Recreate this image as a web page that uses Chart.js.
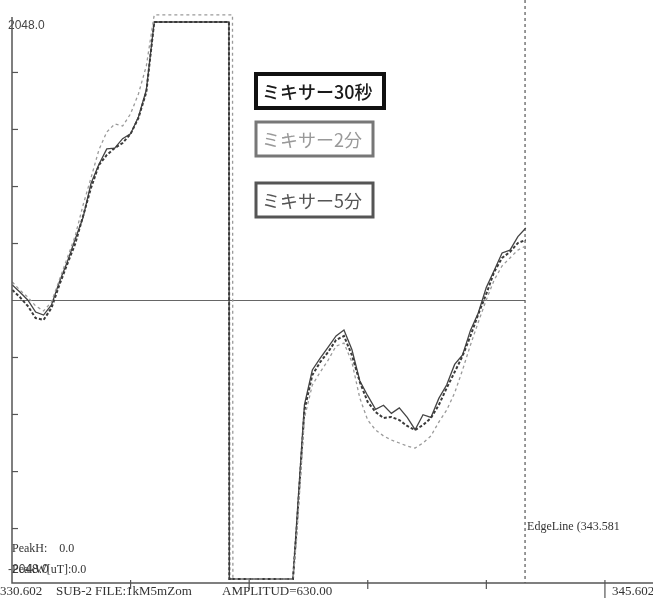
<!DOCTYPE html>
<html>
<head>
<meta charset="utf-8">
<script src="https://cdn.jsdelivr.net/npm/chart.js@4.4.1/dist/chart.umd.min.js"></script>
<style>
  html, body { margin: 0; padding: 0; background: #fff; }
  #wrap { width: 653px; height: 600px; }
</style>
</head>
<body>
<div id="wrap"><canvas id="waveChart" width="653" height="600"></canvas></div>
<script>
// time axis, extra points where the clipped signal jumps
const times = [
  330.61, 330.8, 331.0, 331.2, 331.4, 331.6, 331.8, 332.0, 332.2, 332.4,
  332.6, 332.8, 333.0, 333.2, 333.4, 333.6, 333.8, 334.0, 334.2, 334.4,
  334.6, 334.8, 335.0, 335.2, 335.4, 335.6, 335.8, 336.0,
  336.09, 336.1, 336.18, 336.19,
  336.2, 336.4, 336.6, 336.8, 337.0, 337.2, 337.4, 337.6,
  337.71,
  337.8, 338.0, 338.2, 338.4, 338.6, 338.8, 339.0, 339.2, 339.4, 339.6,
  339.8, 340.0, 340.2, 340.4, 340.6, 340.8, 341.0, 341.2, 341.4, 341.6,
  341.8, 342.0, 342.2, 342.4, 342.6, 342.8, 343.0, 343.2, 343.4, 343.6
];

// ミキサー30秒
const mixer30s = [
  114, 63, 4, -85, -107, -33, 136, 283, 450, 610,
  860, 1000, 1115, 1120, 1190, 1225, 1349, 1548, 2048, 2048,
  2048, 2048, 2048, 2048, 2048, 2048, 2048, 2048,
  2048, -2048, -2048, -2048,
  -2048, -2048, -2048, -2048, -2048, -2048, -2048, -2048,
  -2048,
  -1651, -768, -511, -423, -342, -261, -217, -360, -590, -700,
  -800, -770, -830, -790, -860, -950, -840, -860, -720, -620,
  -470, -400, -220, -90, 95, 220, 350, 370, 470, 533
];

// ミキサー2分
const mixer2m = [
  136, 77, 26, -40, -77, -11, 151, 313, 474, 702,
  901, 1107, 1239, 1298, 1283, 1372, 1519, 1725, 2100, 2100,
  2100, 2100, 2100, 2100, 2100, 2100, 2100, 2100,
  2100, 2100, 2100, -2048,
  -2048, -2048, -2048, -2048, -2048, -2048, -2048, -2048,
  -2048,
  -1761, -864, -621, -526, -438, -335, -313, -452, -717, -879,
  -952, -996, -1026, -1048, -1070, -1085, -1048, -996, -894, -805,
  -680, -511, -327, -158, 4, 151, 254, 313, 371, 401
];

// ミキサー5分
const mixer5m = [
  77, 26, -40, -129, -143, -55, 114, 268, 416, 621,
  827, 996, 1070, 1121, 1158, 1224, 1342, 1533, 2048, 2048,
  2048, 2048, 2048, 2048, 2048, 2048, 2048, 2048,
  2048, -2048, -2048, -2048,
  -2048, -2048, -2048, -2048, -2048, -2048, -2048, -2048,
  -2048,
  -1688, -805, -548, -452, -379, -290, -261, -401, -599, -746,
  -820, -864, -857, -879, -923, -952, -916, -864, -768, -643,
  -526, -408, -261, -99, 48, 210, 313, 357, 423, 445
];

const xTicks = [333.602, 336.602, 339.602, 342.602, 345.602];
const yTicks = [1677, 1258, 838, 419, -419, -838, -1258, -1677];
const edgeLine = 343.581;
const legendLabels = ['ミキサー30秒', 'ミキサー2分', 'ミキサー5分'];

function toPoints(vals) {
  return times.map((t, i) => ({ x: t, y: vals[i] }));
}

const SERIF = '"Liberation Serif", "DejaVu Serif", serif';
const SANS = '"Liberation Sans", "DejaVu Sans", sans-serif';
const JP = '"Noto Sans CJK JP", sans-serif';

const frame = {
  id: 'frame',
  beforeDatasetsDraw(chart) {
    const { ctx, chartArea: a, scales: { x, y } } = chart;
    const y0 = y.getPixelForValue(0);
    const xe = x.getPixelForValue(edgeLine);
    ctx.save();
    // zero line
    ctx.strokeStyle = '#666';
    ctx.lineWidth = 1.2;
    ctx.beginPath();
    ctx.moveTo(a.left, y0);
    ctx.lineTo(xe, y0);
    ctx.stroke();
    // edge line (dashed)
    ctx.strokeStyle = '#555';
    ctx.setLineDash([3, 3]);
    ctx.beginPath();
    ctx.moveTo(xe, a.top);
    ctx.lineTo(xe, a.bottom);
    ctx.stroke();
    ctx.restore();
  },
  afterDatasetsDraw(chart) {
    const { ctx, chartArea: a, scales: { x, y } } = chart;
    ctx.save();
    // texts under the axis line
    ctx.fillStyle = '#444';
    ctx.textBaseline = 'middle';
    ctx.font = '12px ' + SANS;
    ctx.fillText('2048.0', a.left - 4, y.getPixelForValue(2048) + 4);
    ctx.fillText('-2048.0', a.left - 4, y.getPixelForValue(-2048) - 9);

    // axes
    ctx.strokeStyle = '#555';
    ctx.lineWidth = 1.5;
    ctx.beginPath();
    ctx.moveTo(a.left, a.top + 17);
    ctx.lineTo(a.left, a.bottom);
    ctx.lineTo(a.right, a.bottom);
    ctx.stroke();
    ctx.lineWidth = 1.2;
    yTicks.forEach(v => {
      const py = y.getPixelForValue(v);
      ctx.beginPath();
      ctx.moveTo(a.left, py);
      ctx.lineTo(a.left + 6, py);
      ctx.stroke();
    });
    xTicks.forEach((v, i) => {
      const px = x.getPixelForValue(v);
      ctx.beginPath();
      ctx.moveTo(px, a.bottom - 3);
      ctx.lineTo(px, a.bottom + (i === xTicks.length - 1 ? 15 : 6));
      ctx.stroke();
    });

    ctx.fillStyle = '#333';
    ctx.font = '12px ' + SERIF;
    ctx.fillText('PeakH:    0.0', a.left, 549);
    ctx.fillText('PeakW[uT]:0.0', a.left, 570);
    const xe = x.getPixelForValue(edgeLine);
    ctx.fillText('EdgeLine (343.581', xe + 2, 527);
    ctx.font = '13px ' + SERIF;
    ctx.fillText('330.602', 0, 592);
    ctx.fillText('SUB-2', 56, 592);
    ctx.fillText('FILE:1kM5mZom', 95, 592);
    ctx.fillText('AMPLITUD=630.00', 222, 592);
    ctx.fillText('345.602', x.getPixelForValue(345.602) + 7, 592);

    // legend boxes
    const boxes = [
      { x: 256, y: 74, w: 128, h: 34, lw: 4, stroke: '#111', color: '#1a1a1a', weight: '500 ' },
      { x: 256, y: 122, w: 117, h: 34, lw: 3, stroke: '#777', color: '#999', weight: '' },
      { x: 256, y: 183, w: 117, h: 34, lw: 3, stroke: '#555', color: '#555', weight: '' }
    ];
    boxes.forEach((b, i) => {
      ctx.fillStyle = '#fff';
      ctx.fillRect(b.x, b.y, b.w, b.h);
      ctx.strokeStyle = b.stroke;
      ctx.lineWidth = b.lw;
      ctx.setLineDash([]);
      ctx.strokeRect(b.x, b.y, b.w, b.h);
      ctx.fillStyle = b.color;
      ctx.font = b.weight + '18px ' + JP;
      ctx.fillText(legendLabels[i], b.x + 6, b.y + b.h / 2 + 1);
    });
    ctx.restore();
  }
};

const ctx = document.getElementById('waveChart').getContext('2d');
new Chart(ctx, {
  type: 'line',
  data: {
    datasets: [
      {
        label: legendLabels[1],
        data: toPoints(mixer2m),
        borderColor: '#9a9a9a',
        borderWidth: 1.3,
        borderDash: [3, 3],
        pointRadius: 0,
        tension: 0
      },
      {
        label: legendLabels[2],
        data: toPoints(mixer5m),
        borderColor: '#3a3a3a',
        borderWidth: 2,
        borderDash: [3, 2],
        pointRadius: 0,
        tension: 0
      },
      {
        label: legendLabels[0],
        data: toPoints(mixer30s),
        borderColor: '#444',
        borderWidth: 1.3,
        pointRadius: 0,
        tension: 0
      }
    ]
  },
  options: {
    responsive: false,
    animation: false,
    devicePixelRatio: 1,
    layout: { padding: { left: 12, right: 0, top: 0, bottom: 17 } },
    plugins: {
      legend: { display: false },
      tooltip: { enabled: false }
    },
    scales: {
      x: { type: 'linear', min: 330.602, max: 346.818, display: false },
      y: { type: 'linear', min: -2077.4, max: 2209.8, display: false }
    }
  },
  plugins: [frame]
});
</script>
</body>
</html>
